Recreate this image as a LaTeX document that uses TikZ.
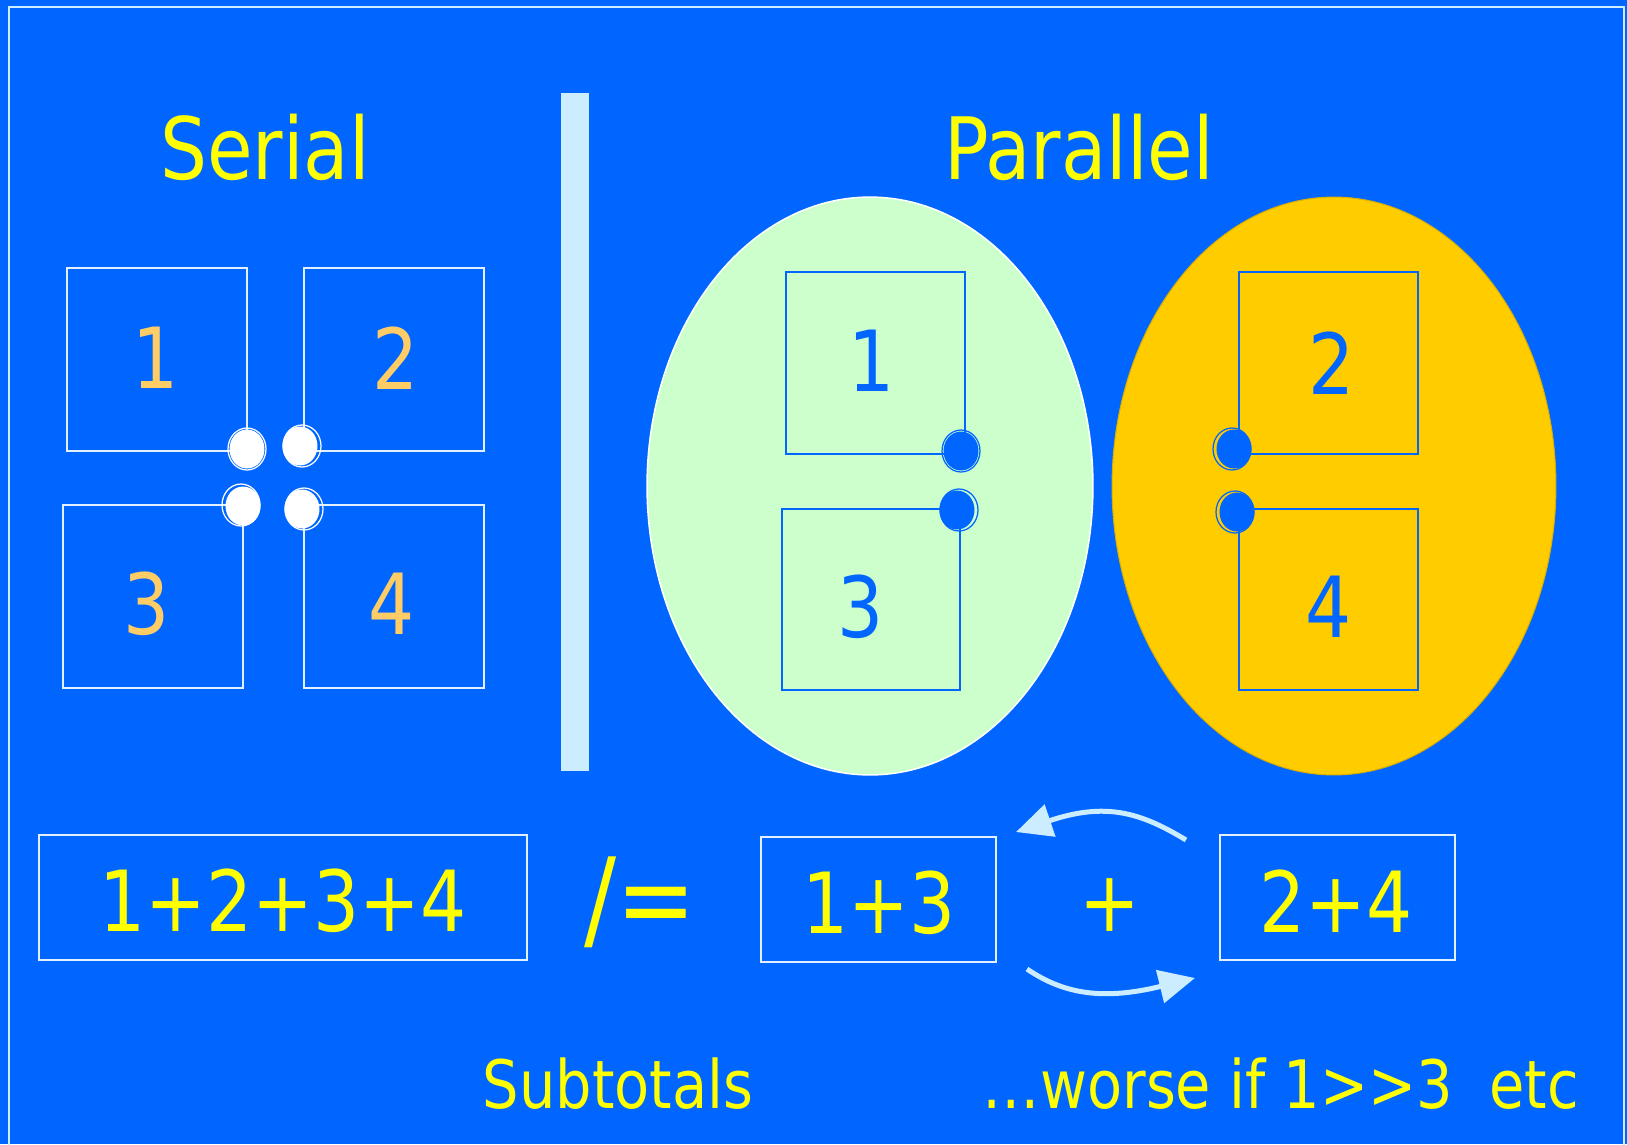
\documentclass[tikz,border=0pt]{standalone}
\usepackage{fontspec}
\setmainfont{DejaVu Sans}[FakeStretch=0.86]
\usetikzlibrary{arrows.meta,shapes.geometric}
\definecolor{bg}{HTML}{0066FF}
\definecolor{lightb}{HTML}{CCECFF}
\definecolor{boxline}{HTML}{E2F0FF}
\definecolor{greenf}{HTML}{CCFFCC}
\definecolor{goldf}{HTML}{FFCC00}
\definecolor{orangetxt}{HTML}{FFCC66}
\definecolor{yel}{HTML}{FFFF00}
\tikzset{
  title/.style={text=yel, font=\fontsize{49}{55}\selectfont, inner sep=0pt},
  num/.style={font=\fontsize{48}{54}\selectfont, inner sep=0pt},
  big/.style={text=yel, font=\fontsize{48}{54}\selectfont, inner sep=0pt},
  bigger/.style={text=yel, font=\fontsize{63}{70}\selectfont, inner sep=0pt},
  small/.style={text=yel, font=\fontsize{38}{44}\selectfont, inner sep=0pt},
  sbox/.style={draw=boxline, line width=0.04cm, minimum width=3.6cm, minimum height=3.66cm, inner sep=0pt},
  pbox/.style={draw=bg, line width=0.04cm, minimum width=3.58cm, minimum height=3.64cm, inner sep=0pt},
  rbox/.style={draw=boxline, line width=0.04cm, minimum height=2.5cm, inner sep=0pt},
  dot/.style={ellipse, minimum width=0.7cm, minimum height=0.78cm, inner sep=0pt},
  wdot/.style={dot, fill=white},
  bdot/.style={dot, fill=bg},
  ring/.style={ellipse, minimum width=0.76cm, minimum height=0.84cm, inner sep=0pt, line width=0.025cm},
  arr/.style={draw=lightb, line width=0.1cm, -{Triangle[length=0.72cm,width=0.66cm]}},
}
\begin{document}
\begin{tikzpicture}[x=0.02cm,y=-0.02cm]
\fill[bg] (0,0) rectangle (1627,1144);
\useasboundingbox (0,0) rectangle (1627,1144);
\draw[lightb, line width=0.035cm] (9,1160) -- (9,7) -- (1624,7) -- (1624,1160);

% titles
\node[title] (tser) at (265,147) {Serial};
\node[title] (tpar) at (1079,147) {Parallel};

% divider bar
\fill[lightb] (561,93) rectangle (589,771);

% serial boxes
\node[sbox] (s1) at (157,359.5) {};
\node[sbox] (s2) at (394,359.5) {};
\node[sbox] (s3) at (153,596.5) {};
\node[sbox] (s4) at (394,596.5) {};
\node[num, text=orangetxt] (n1) at (156,358) {1};
\node[num, text=orangetxt] (n2) at (396,358) {2};
\node[num, text=orangetxt] (n3) at (147,604) {3};
\node[num, text=orangetxt] (n4) at (392,604) {4};
\node[ring, draw=white] (r1) at (247,449) {};
\node[wdot] (c1) at (247,449) {};
\node[ring, draw=white] (r2) at (302,446) {};
\node[wdot] (c2) at (300,446) {};
\node[ring, draw=white] (r3) at (241,505) {};
\node[wdot] (c3) at (243,506) {};
\node[ring, draw=white] (r4) at (304,509) {};
\node[wdot] (c4) at (302,509) {};

% parallel ellipses
\node[ellipse, fill=greenf, draw=white, line width=0.03cm, minimum width=8.92cm, minimum height=11.56cm] (eg) at (870,486) {};
\node[ellipse, fill=goldf, draw=goldf!85!black, line width=0.02cm, minimum width=8.88cm, minimum height=11.56cm] (ey) at (1334,486) {};

\node[pbox] (g1) at (875.5,363) {};
\node[pbox] (g3) at (871,599.5) {};
\node[pbox] (y2) at (1328.5,363) {};
\node[pbox] (y4) at (1328.5,599.5) {};
\node[num, text=bg] (m1) at (872,361) {1};
\node[num, text=bg] (m3) at (861,607) {3};
\node[num, text=bg] (m2) at (1332,363) {2};
\node[num, text=bg] (m4) at (1329,607) {4};

\node[ring, draw=bg] (q1) at (961,451) {};
\node[bdot] (d1) at (961,451) {};
\node[ring, draw=bg] (q3) at (959,510) {};
\node[bdot] (d3) at (957,510) {};
\node[ring, draw=bg] (q2) at (1232,449) {};
\node[bdot] (d2) at (1234,449) {};
\node[ring, draw=bg] (q4) at (1235,512) {};
\node[bdot] (d4) at (1237,512) {};

% bottom row
\node[rbox, minimum width=9.76cm] (bsum) at (283,897.5) {};
\node[big] (tsum) at (283,901) {1+2+3+4};
\node[bigger] (neq) at (640,902) {/=};
\node[rbox, minimum width=4.7cm] (b13) at (878.5,899.5) {};
\node[big] (t13) at (879,903) {1+3};
\node[big] (plus) at (1110,905) {+};
\node[rbox, minimum width=4.7cm] (b24) at (1337.5,897.5) {};
\node[big] (t24) at (1336,901) {2+4};

% swap arrows
\coordinate (a1s) at (1186,840);
\coordinate (a1e) at (1016,832);
\coordinate (a2s) at (1027,969);
\coordinate (a2e) at (1195,978);
\draw[arr] (a1s) .. controls (1140,812) and (1105,802) .. (a1e);
\draw[arr] (a2s) .. controls (1065,995) and (1105,1000) .. (a2e);

% captions
\node[small] (sub) at (618,1084) {Subtotals};
\node[small] (worse) at (1281,1084) {…worse if 1>{}>3\ \ etc};
\end{tikzpicture}
\end{document}
